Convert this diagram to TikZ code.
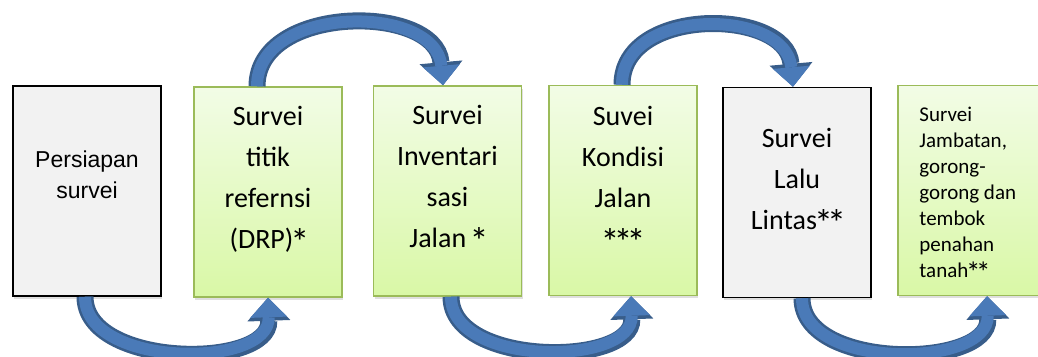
\documentclass[tikz,border=0pt]{standalone}
\usepackage{fontspec}
\setmainfont{Carlito}
\newfontfamily\arialfont{Liberation Sans}
\usetikzlibrary{arrows.meta,shadows}

\definecolor{boxgreen}{HTML}{9BBB59}
\definecolor{greentop}{HTML}{F2FCE6}
\definecolor{greenbot}{HTML}{D9F8A6}
\definecolor{arrowfill}{HTML}{4A7AB8}
\definecolor{arrowline}{HTML}{385D8A}

\tikzset{
  stage/.style={rectangle, minimum width=148pt, minimum height=210pt, inner sep=0pt,
    drop shadow={shadow xshift=1pt, shadow yshift=-3pt, opacity=.25}},
  greenstage/.style={stage, draw=boxgreen, line width=1.5pt, top color=greentop, bottom color=greenbot},
  graystage/.style={stage, draw=black, line width=1.5pt, fill=gray!10},
  stagetext/.style={anchor=north, align=center, inner sep=0pt, font=\fontsize{28}{41}\selectfont},
  flowedge/.style={line width=17pt, draw=arrowline, -{Triangle[width=43pt,length=23pt,line width=0pt]}},
  flow/.style={line width=12pt, draw=arrowfill, -{Triangle[width=37pt,length=19.5pt,line width=0pt]}},
}
% thick curved arrow: dark rim first, then the lighter body
\newcommand\flowarrow[3]{%
  \draw[flowedge] #1 to[#3] #2;
  \draw[flow] #1 to[#3] #2;}
% stars for the footnote marks, bigger and lower than the font's own
\newcommand\bintang{\hbox to 13pt{\hss\raisebox{-7pt}{\fontsize{38}{41}\selectfont*}\hss}}
\newcommand\bintangkecil{\hbox to 10pt{\hss\raisebox{-5pt}{\fontsize{29}{26}\selectfont*}\hss}}

\begin{document}
\begin{tikzpicture}[x=1pt,y=1pt]
  \useasboundingbox (0,0) rectangle (1038,356);

  % the six stages
  \node[graystage] (persiapan) at (87,165) {};
  \node[greenstage] (drp) at (268,164) {};
  \node[greenstage] (inventaris) at (447.5,165) {};
  \node[greenstage] (kondisi) at (623,165.5) {};
  \node[graystage] (lalulintas) at (797,163.5) {};
  \node[greenstage] (jembatan) at (972,165.5) {};

  \node[stagetext, font=\arialfont\fontsize{23}{31}\selectfont] (persiapan-txt) at ([yshift=-65pt]persiapan.north) {Persiapan\\survei};
  \node[stagetext] (drp-txt) at ([yshift=-20pt]drp.north) {Survei\\titik\\refernsi\\(DRP)\bintang};
  \node[stagetext] (inventaris-txt) at ([yshift=-20pt]inventaris.north) {Survei\\Inventari\\sasi\\Jalan \bintang};
  \node[stagetext] (kondisi-txt) at ([yshift=-21pt]kondisi.north) {Suvei\\Kondisi\\Jalan\\\bintang\bintang\bintang};
  \node[stagetext] (lalulintas-txt) at ([yshift=-41pt]lalulintas.north) {Survei\\Lalu\\Lintas\bintang\bintang};
  \node[stagetext, anchor=north west, align=left, font=\fontsize{21}{26}\selectfont] (jembatan-txt)
    at ([xshift=22pt,yshift=-22pt]jembatan.north west) {Survei\\Jambatan,\\gorong-\\gorong dan\\tembok\\penahan\\tanah\bintangkecil\bintangkecil};

  % arrows, alternating below and above
  \flowarrow{([xshift=-2pt]persiapan.south)}{(drp.south)}{out=-90,in=-88,looseness=1}
  \flowarrow{([xshift=-11pt]drp.north)}{([xshift=-4.5pt]inventaris.north)}{out=90,in=95,looseness=1.13}
  \flowarrow{([xshift=3.5pt]inventaris.south)}{([xshift=8pt]kondisi.south)}{out=-90,in=-88,looseness=1}
  \flowarrow{([xshift=-1pt]kondisi.north)}{([xshift=-4pt]lalulintas.north)}{out=90,in=95,looseness=1.18}
  \flowarrow{([xshift=5pt]lalulintas.south)}{([xshift=15pt]jembatan.south)}{out=-90,in=-88,looseness=1}
\end{tikzpicture}
\end{document}
